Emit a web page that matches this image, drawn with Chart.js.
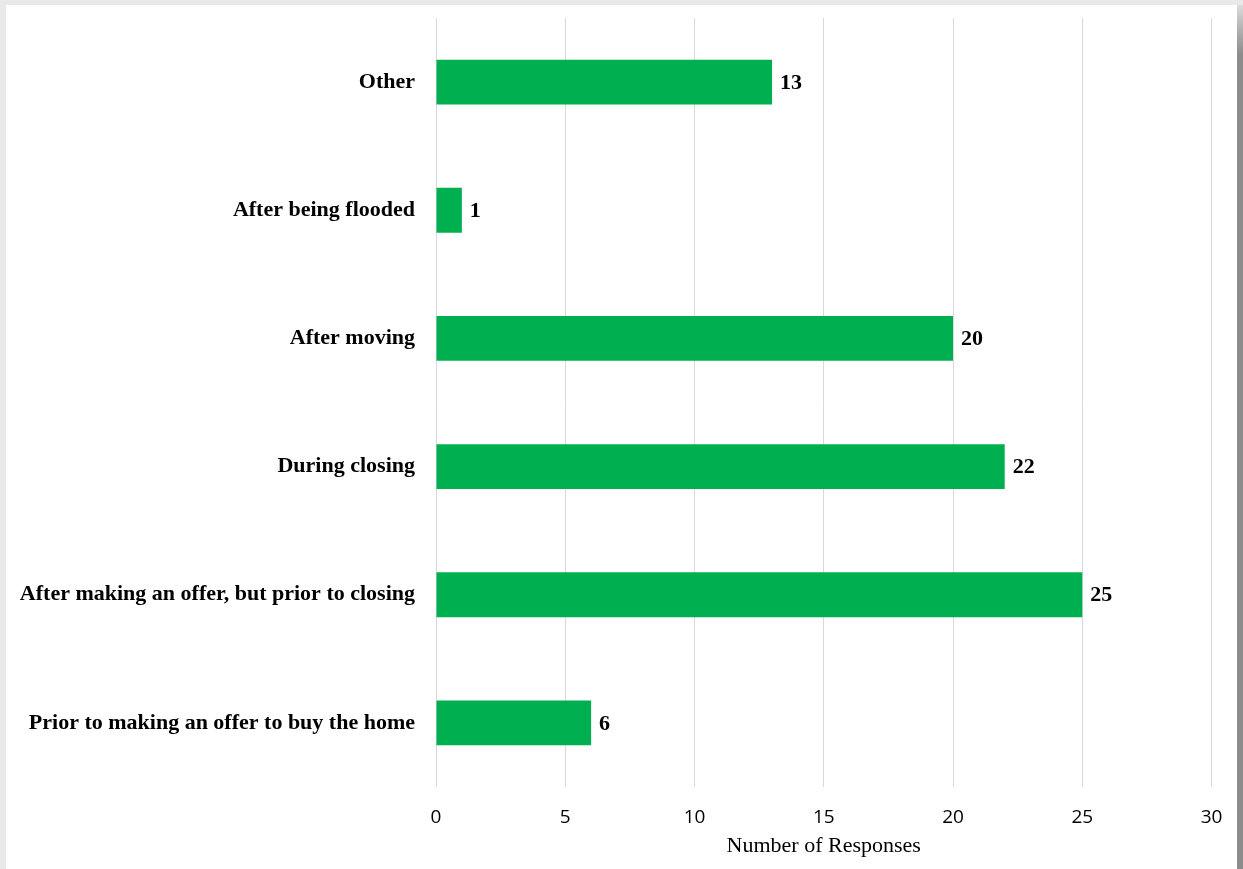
<!DOCTYPE html>
<html>
<head>
<meta charset="utf-8">
<script src="https://cdn.jsdelivr.net/npm/chart.js@4"></script>
<style>
    html, body { margin: 0; padding: 0; }
    body {
        width: 1243px;
        height: 869px;
        background: #e9e9e9;
        position: relative;
        overflow: hidden;
    }
    #shadow {
        position: absolute;
        left: 1237px;
        top: 5px;
        width: 6px;
        height: 864px;
        background: linear-gradient(to bottom, #dcdcdc 0px, #b0b0b0 25px, #8c8c8c 50px, #8c8c8c 100%);
    }
    #panel {
        position: absolute;
        left: 6px;
        top: 5px;
        width: 1231px;
        height: 864px;
        background: #ffffff;
    }
</style>
</head>
<body>
<div id="shadow"></div>
<div id="panel"><canvas id="responsesChart" width="1231" height="864"></canvas></div>
<script>
const categories = [
    'Other',
    'After being flooded',
    'After moving',
    'During closing',
    'After making an offer, but prior to closing',
    'Prior to making an offer to buy the home'
];
const responses = [13, 1, 20, 22, 25, 6];
const xTicks = [0, 5, 10, 15, 20, 25, 30];

const serif = "'Liberation Serif', 'DejaVu Serif', serif";
const sans = "'Open Sans', 'Liberation Sans', sans-serif";

// writes each bar's count just past its end
const valueLabels = {
    id: 'valueLabels',
    afterDatasetsDraw(chart) {
        const ctx = chart.ctx;
        const meta = chart.getDatasetMeta(0);
        ctx.save();
        ctx.font = 'bold 22px ' + serif;
        ctx.fillStyle = '#000000';
        ctx.textAlign = 'left';
        ctx.textBaseline = 'middle';
        meta.data.forEach((bar, i) => {
            ctx.fillText(chart.data.datasets[0].data[i], bar.x + 8, bar.y + 1);
        });
        ctx.restore();
    }
};

const ctx = document.getElementById('responsesChart').getContext('2d');
new Chart(ctx, {
    type: 'bar',
    data: {
        labels: categories,
        datasets: [{
            data: responses,
            backgroundColor: '#00b050',
            borderWidth: 0,
            barPercentage: 0.35,
            categoryPercentage: 1
        }]
    },
    options: {
        indexAxis: 'y',
        responsive: false,
        animation: false,
        layout: {
            padding: { top: 13, right: 25.5, bottom: 0, left: 0 }
        },
        plugins: {
            legend: { display: false },
            tooltip: { enabled: false }
        },
        scales: {
            x: {
                min: 0,
                max: 30,
                afterBuildTicks(scale) {
                    scale.ticks = xTicks.map(v => ({ value: v }));
                },
                afterFit(scale) {
                    scale.height = 82;
                    scale.paddingLeft = 0;
                    scale.paddingRight = 0;
                },
                grid: {
                    color: '#d9d9d9',
                    lineWidth: 1,
                    drawTicks: false
                },
                border: { display: false },
                ticks: {
                    color: '#000000',
                    padding: 19,
                    font: { family: sans, size: 19 }
                },
                title: {
                    display: true,
                    text: 'Number of Responses',
                    color: '#000000',
                    padding: { top: 4, bottom: 10 },
                    font: { family: serif, size: 22 }
                }
            },
            y: {
                grid: { display: false },
                border: { display: false },
                afterFit(scale) {
                    scale.width = 430;
                    scale.paddingTop = 0;
                    scale.paddingBottom = 0;
                },
                ticks: {
                    color: '#000000',
                    padding: 13,
                    font: { family: serif, size: 22, weight: 'bold' }
                }
            }
        }
    },
    plugins: [valueLabels]
});
</script>
</body>
</html>
